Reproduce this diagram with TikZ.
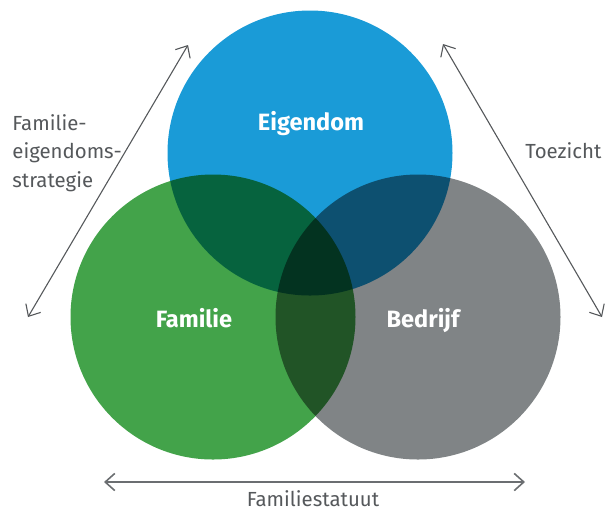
\documentclass[tikz,border=0pt]{standalone}
\usepackage{fontspec}
\setmainfont{Fira Sans}
\usepackage{tikz}
\usetikzlibrary{arrows.meta,positioning}

\definecolor{eigblue}{HTML}{1A9BD7}
\definecolor{famgreen}{HTML}{43A34A}
\definecolor{bedgrey}{HTML}{808486}
\definecolor{labelgrey}{HTML}{55585B}
\definecolor{axisgrey}{HTML}{6B6E71}

\tikzset{
  zone/.style={circle, minimum size=142.5pt, inner sep=0pt},
  zonelabel/.style={text=white, font=\fontsize{11.8}{14}\selectfont\bfseries, anchor=base},
  sidelabel/.style={text=labelgrey, font=\fontsize{10.2}{14.25}\selectfont, inner sep=0pt},
  relation/.style={draw=labelgrey, line width=0.55pt,
    {Straight Barb[length=4.8pt,width=8.6pt]}-{Straight Barb[length=4.8pt,width=8.6pt]}}
}

\begin{document}
\begin{tikzpicture}[x=0.5pt, y=-0.5pt]
    \useasboundingbox (0,0) rectangle (605,511);

    % Three overlapping circles
    \begin{scope}[blend group=multiply]
        \node[zone, fill=eigblue] (eigendom) at (310,153) {};
        \node[zone, fill=famgreen] (familie) at (213,317) {};
        \node[zone, fill=bedgrey] (bedrijf) at (418,317) {};
    \end{scope}

    % Circle labels
    \node[zonelabel] (eigtext) at (311,130) {Eigendom};
    \node[zonelabel] (famtext) at (194,327) {Familie};
    \node[zonelabel] (bedtext) at (423,327) {Bedrijf};

    % Arrow end points
    \coordinate (strat-a) at (28,317);
    \coordinate (strat-b) at (188,45);
    \coordinate (toez-a) at (443,44);
    \coordinate (toez-b) at (602,317);
    \coordinate (stat-a) at (104,482);
    \coordinate (stat-b) at (525,482);

    % Arrows
    \draw[relation] (strat-a) -- (strat-b);
    \draw[relation] (toez-a) -- (toez-b);
    \draw[relation, draw=axisgrey, line width=0.8pt] (stat-a) -- (stat-b);

    % Side labels
    \node[sidelabel, align=left, anchor=north west] (strattext) at (12,114) {Familie-\\eigendoms-\\strategie};
    \node[sidelabel, anchor=base west] (toeztext) at (525,158) {Toezicht};
    \node[sidelabel, anchor=base] (stattext) at (313,506) {Familiestatuut};
\end{tikzpicture}
\end{document}
